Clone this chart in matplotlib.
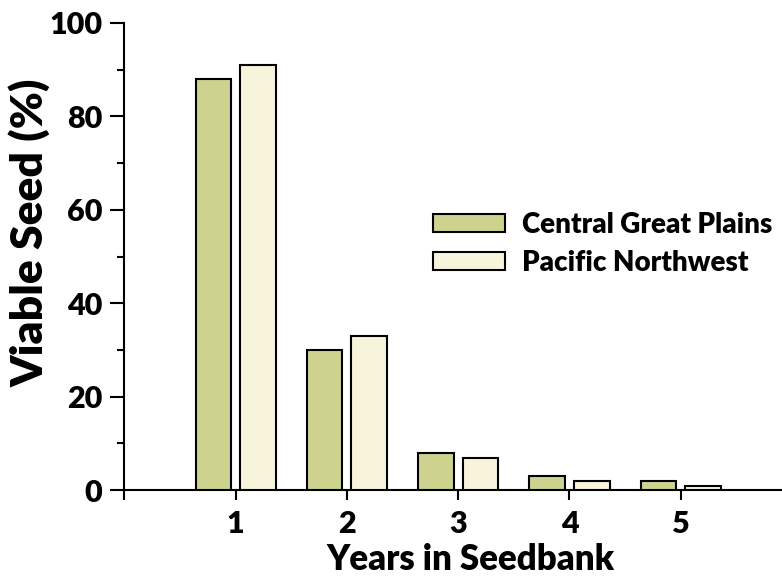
import matplotlib.pyplot as plt
import numpy as np

plt.rcParams['font.family'] = ['Lato', 'DejaVu Sans']
plt.rcParams['font.weight'] = 'heavy'

# data
years = [1, 2, 3, 4, 5]
great_plains = [88, 30, 8, 3, 2]
pacific_nw = [91, 33, 7, 2, 1]

x_ticks = [0, 1, 2, 3, 4, 5]
x_tick_labels = ['', '1', '2', '3', '4', '5']

green = '#cdd38f'
cream = '#f8f4dc'

fig = plt.figure(figsize=(7.82, 5.85), dpi=100)
ax = fig.add_axes([0.159, 0.162, 0.841, 0.799])

x = np.array(years)
w = 0.32
ax.bar(x - 0.2, great_plains, w, color=green, edgecolor='black', linewidth=1.5,
       label='Central Great Plains', zorder=3)
ax.bar(x + 0.2, pacific_nw, w, color=cream, edgecolor='black', linewidth=1.5,
       label='Pacific Northwest', zorder=3)

ax.set_xlim(0, 5.91)
ax.set_ylim(0, 100)

ax.spines['top'].set_visible(False)
ax.spines['right'].set_visible(False)
ax.spines['left'].set_linewidth(1.5)
ax.spines['bottom'].set_linewidth(1.5)

ax.set_yticks([0, 20, 40, 60, 80, 100])
ax.set_yticks([10, 30, 50, 70, 90], minor=True)
ax.set_xticks(x_ticks)
ax.set_xticklabels(x_tick_labels)

ax.tick_params(axis='y', which='major', length=10, width=1.5, labelsize=22, pad=6)
ax.tick_params(axis='y', which='minor', length=5, width=1.5)
ax.tick_params(axis='x', which='major', length=7, width=1.5, labelsize=22, pad=7)

ax.set_xlabel('Years in Seedbank', fontsize=25, fontweight='heavy', labelpad=4)
ax.xaxis.label.set_x(0.527)
ax.set_ylabel('Viable Seed (%)', fontsize=32, fontweight='heavy', labelpad=-1)
ax.yaxis.label.set_y(0.55)

leg = ax.legend(loc='upper left', bbox_to_anchor=(0.448, 0.625), frameon=False,
                fontsize=20, handlelength=2.6, handleheight=0.6,
                handletextpad=0.6, labelspacing=0.42, borderpad=0)
for t in leg.get_texts():
    t.set_fontweight('heavy')

fig.savefig('out.png', dpi=100)
